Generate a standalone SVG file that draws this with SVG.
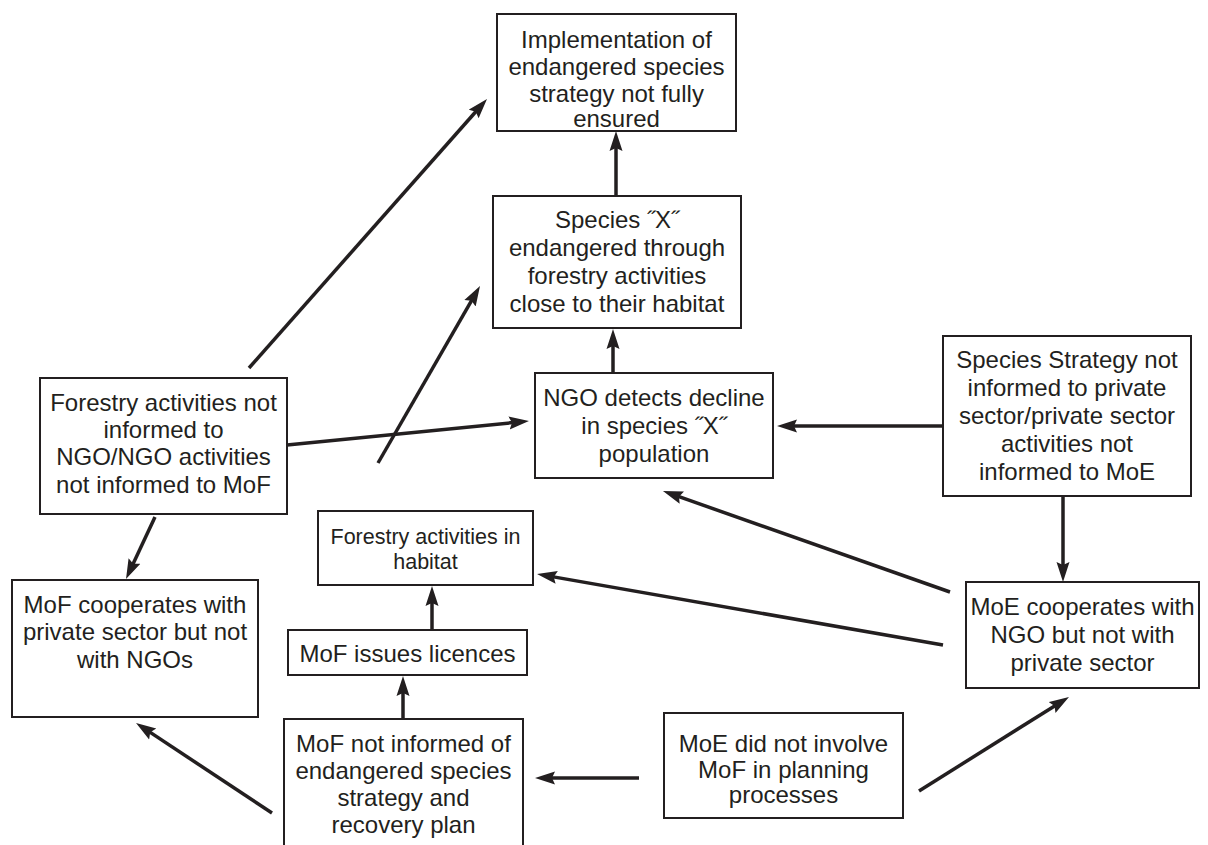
<svg xmlns="http://www.w3.org/2000/svg" width="1208" height="845" viewBox="0 0 1208 845">
<defs>
<style>
.box{fill:#ffffff;stroke:#231f20;stroke-width:2}
.t{font-family:"Liberation Sans",Arial,sans-serif;font-size:24px;fill:#231f20;text-anchor:middle}
.s{font-size:21.5px}
.c{fill:none;stroke:#231f20;stroke-width:3.5;stroke-linecap:butt}
</style>
<marker id="ah" markerUnits="userSpaceOnUse" markerWidth="22" markerHeight="16" refX="12" refY="7" orient="auto">
<path d="M0,0.5 L20,7 L0,13.5 L3,7 z" fill="#231f20"/>
</marker>
</defs>
<rect width="1208" height="845" fill="#ffffff"/>

<g id="connectors">
<line class="c" x1="249" y1="368" x2="481.7" y2="105" marker-end="url(#ah)"/>
<line class="c" x1="378" y1="463" x2="476" y2="292.9" marker-end="url(#ah)"/>
<line class="c" x1="287" y1="445" x2="521" y2="421.8" marker-end="url(#ah)"/>
<line class="c" x1="943" y1="426" x2="785" y2="426" marker-end="url(#ah)"/>
<line class="c" x1="616" y1="196" x2="616" y2="139" marker-end="url(#ah)"/>
<line class="c" x1="613" y1="373" x2="613" y2="337" marker-end="url(#ah)"/>
<line class="c" x1="1063" y1="496" x2="1063" y2="574" marker-end="url(#ah)"/>
<line class="c" x1="950" y1="592" x2="670.5" y2="493.7" marker-end="url(#ah)"/>
<line class="c" x1="943" y1="645" x2="544.9" y2="575.4" marker-end="url(#ah)"/>
<line class="c" x1="155" y1="517" x2="129.4" y2="571.8" marker-end="url(#ah)"/>
<line class="c" x1="432" y1="630" x2="432" y2="594" marker-end="url(#ah)"/>
<line class="c" x1="403" y1="719" x2="403" y2="684" marker-end="url(#ah)"/>
<line class="c" x1="639" y1="778" x2="543" y2="778" marker-end="url(#ah)"/>
<line class="c" x1="919" y1="791" x2="1062.2" y2="701.2" marker-end="url(#ah)"/>
<line class="c" x1="272" y1="813" x2="142.7" y2="727.4" marker-end="url(#ah)"/>
</g>

<g id="n-implementation">
<rect class="box" x="497" y="14" width="239" height="117"/>
<text class="t"><tspan x="616.5" y="48">Implementation of</tspan><tspan x="616.5" y="75">endangered species</tspan><tspan x="616.5" y="102">strategy not fully</tspan><tspan x="616.5" y="127">ensured</tspan></text>
</g>

<g id="n-species-endangered">
<rect class="box" x="493" y="196" width="248" height="132"/>
<text class="t"><tspan x="617" y="228">Species ˝X˝</tspan><tspan x="617" y="256">endangered through</tspan><tspan x="617" y="284">forestry activities</tspan><tspan x="617" y="312">close to their habitat</tspan></text>
</g>

<g id="n-ngo-detects">
<rect class="box" x="535" y="373" width="238" height="105"/>
<text class="t"><tspan x="654" y="406">NGO detects decline</tspan><tspan x="654" y="434">in species ˝X˝</tspan><tspan x="654" y="462">population</tspan></text>
</g>

<g id="n-species-strategy">
<rect class="box" x="943" y="336" width="248" height="160"/>
<text class="t"><tspan x="1067" y="368">Species Strategy not</tspan><tspan x="1067" y="396">informed to private</tspan><tspan x="1067" y="424">sector/private sector</tspan><tspan x="1067" y="452">activities not</tspan><tspan x="1067" y="480">informed to MoE</tspan></text>
</g>

<g id="n-forestry-not-informed">
<rect class="box" x="40" y="378" width="247" height="136"/>
<text class="t"><tspan x="163.5" y="411">Forestry activities not</tspan><tspan x="163.5" y="438">informed to</tspan><tspan x="163.5" y="465">NGO/NGO activities</tspan><tspan x="163.5" y="493">not informed to MoF</tspan></text>
</g>

<g id="n-mof-cooperates">
<rect class="box" x="12" y="580" width="246" height="137"/>
<text class="t"><tspan x="135" y="613">MoF cooperates with</tspan><tspan x="135" y="640">private sector but not</tspan><tspan x="135" y="668">with NGOs</tspan></text>
</g>

<g id="n-forestry-habitat">
<rect class="box" x="318" y="511" width="215" height="74"/>
<text class="t s"><tspan x="425.5" y="544">Forestry activities in</tspan><tspan x="425.5" y="569">habitat</tspan></text>
</g>

<g id="n-mof-licences">
<rect class="box" x="288" y="630" width="239" height="45"/>
<text class="t"><tspan x="407.5" y="662">MoF issues licences</tspan></text>
</g>

<g id="n-mof-not-informed">
<rect class="box" x="284" y="719" width="239" height="140"/>
<text class="t"><tspan x="403.5" y="752">MoF not informed of</tspan><tspan x="403.5" y="779">endangered species</tspan><tspan x="403.5" y="806">strategy and</tspan><tspan x="403.5" y="833">recovery plan</tspan></text>
</g>

<g id="n-moe-not-involve">
<rect class="box" x="664" y="713" width="239" height="105"/>
<text class="t"><tspan x="783.5" y="752">MoE did not involve</tspan><tspan x="783.5" y="778">MoF in planning</tspan><tspan x="783.5" y="803">processes</tspan></text>
</g>

<g id="n-moe-cooperates">
<rect class="box" x="966" y="582" width="233" height="106"/>
<text class="t"><tspan x="1082.5" y="615">MoE cooperates with</tspan><tspan x="1082.5" y="643">NGO but not with</tspan><tspan x="1082.5" y="671">private sector</tspan></text>
</g>
</svg>
